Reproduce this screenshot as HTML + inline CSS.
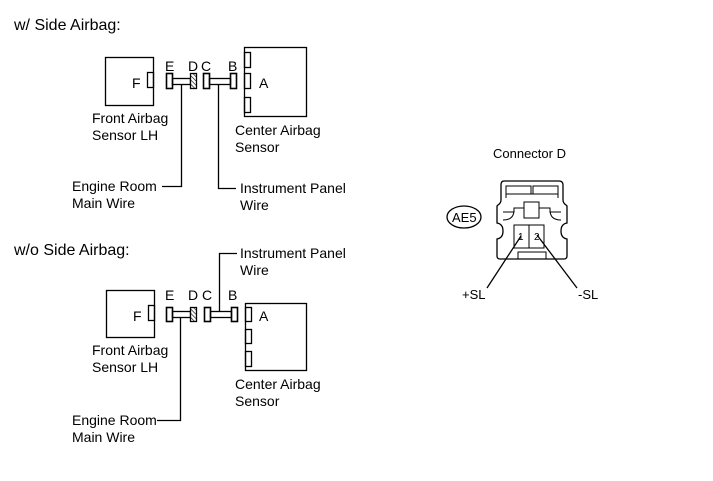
<!DOCTYPE html>
<html><head><style>
html,body{margin:0;padding:0;background:#fff;}
svg{display:block;}
text{font-family:"Liberation Sans",Arial,sans-serif;fill:#000;}
</style></head><body>
<svg width="713" height="481" viewBox="0 0 713 481" xmlns="http://www.w3.org/2000/svg">
<defs>
<pattern id="h" width="3" height="3" patternUnits="userSpaceOnUse" patternTransform="rotate(-45)">
<rect width="3" height="3" fill="#fff"/><line x1="0" y1="0" x2="0" y2="3" stroke="#000" stroke-width="1.2"/>
</pattern>
</defs>
<g stroke="#000" fill="none" stroke-width="1.3">
<rect x="105.5" y="57.5" width="48" height="48"/>
<rect x="147.5" y="72.5" width="6" height="15"/>
<rect x="166.5" y="73.5" width="6" height="15" stroke-width="1.6"/>
<rect x="172.5" y="78.5" width="18" height="6"/>
<rect x="190.5" y="73.5" width="6" height="15" fill="url(#h)"/>
<rect x="203.5" y="73.5" width="6" height="15" stroke-width="1.6"/>
<rect x="209.5" y="78.5" width="21" height="6"/>
<rect x="230.5" y="73.5" width="6" height="15" stroke-width="1.6"/>
<rect x="244.5" y="47.5" width="62" height="69"/>
<rect x="244.5" y="52.5" width="6" height="15"/>
<rect x="244.5" y="73.5" width="6" height="15"/>
<rect x="244.5" y="97.5" width="6" height="15"/>
<polyline points="181.5,84.5 181.5,186.5 162,186.5"/>
<polyline points="218.5,84.5 218.5,188.5 236,188.5"/>
<rect x="106.5" y="290.5" width="48" height="47"/>
<rect x="148.5" y="305.5" width="6" height="15"/>
<rect x="166.5" y="307.5" width="6" height="14" stroke-width="1.6"/>
<rect x="172.5" y="311.5" width="18" height="6"/>
<rect x="190.5" y="307.5" width="6" height="14" fill="url(#h)"/>
<rect x="204.5" y="307.5" width="6" height="14" stroke-width="1.6"/>
<rect x="210.5" y="311.5" width="21" height="6"/>
<rect x="231.5" y="307.5" width="6" height="14" stroke-width="1.6"/>
<rect x="245.5" y="303.5" width="61" height="67"/>
<rect x="245.5" y="307.5" width="6" height="14"/>
<rect x="245.5" y="329.5" width="6" height="14"/>
<rect x="245.5" y="351.5" width="6" height="15"/>
<polyline points="180.5,317.5 180.5,420.5 157,420.5"/>
<polyline points="219.5,311.5 219.5,253.5 237,253.5"/>
<path d="M504,181 L559,181 Q563,181 563,185 L563,200 Q563,203 566,205 L567,206 L567,223 Q561,224 561,231 Q561,238 567,239 L567,256 Q567,259 564,259 L500,259 Q497,259 497,256 L497,239 Q503,238 503,231 Q503,224 497,223 L497,206 L498,205 Q501,203 501,200 L501,185 Q501,181 504,181 Z"/>
<path d="M506,198 L506,186 L531,186 L531,194 M533,194 L533,186 L558,186 L558,198" stroke-width="1"/>
<line x1="506" y1="194" x2="558" y2="194" stroke-width="1"/>
<rect x="524" y="202" width="15" height="16" stroke-width="1"/>
<path d="M503,212 L514,212 L514,208 L524,208 M539,208 L550,208 L550,212 L561,212" stroke-width="1"/>
<path d="M503,220 Q514,220 514,210" stroke-width="1"/>
<path d="M561,220 Q550,220 550,210" stroke-width="1"/>
<rect x="514" y="225" width="15" height="23" stroke-width="1"/>
<rect x="529" y="225" width="15" height="23" stroke-width="1"/>
<path d="M518,259 L518,252 L546,252 L546,259" stroke-width="1"/>
<line x1="521" y1="236" x2="487" y2="288"/>
<line x1="537" y1="235" x2="577" y2="288"/>
<ellipse cx="464" cy="217" rx="17" ry="11"/>
</g>
<g font-size="14">
<text x="14" y="30" font-size="16">w/ Side Airbag:</text>
<text x="132" y="88">F</text>
<text x="165" y="71">E</text>
<text x="188" y="71">D</text>
<text x="201" y="71">C</text>
<text x="228" y="71">B</text>
<text x="259" y="88">A</text>
<text x="92" y="123">Front Airbag</text>
<text x="92" y="140">Sensor LH</text>
<text x="235" y="135">Center Airbag</text>
<text x="235" y="152">Sensor</text>
<text x="72" y="191">Engine Room</text>
<text x="72" y="208">Main Wire</text>
<text x="240" y="193">Instrument Panel</text>
<text x="240" y="210">Wire</text>

<text x="14" y="255" font-size="16">w/o Side Airbag:</text>
<text x="133" y="321">F</text>
<text x="165" y="300">E</text>
<text x="188" y="300">D</text>
<text x="202" y="300">C</text>
<text x="228" y="300">B</text>
<text x="259" y="321">A</text>
<text x="92" y="355">Front Airbag</text>
<text x="92" y="372">Sensor LH</text>
<text x="235" y="389">Center Airbag</text>
<text x="235" y="406">Sensor</text>
<text x="72" y="425">Engine Room</text>
<text x="72" y="442">Main Wire</text>
<text x="240" y="258">Instrument Panel</text>
<text x="240" y="275">Wire</text>

<text x="493" y="158" font-size="13">Connector D</text>
<text x="452" y="222" font-size="13">AE5</text>
<text x="518" y="240" font-size="10">1</text>
<text x="534" y="240" font-size="10">2</text>
<text x="462" y="299" font-size="13">+SL</text>
<text x="578" y="299" font-size="13">-SL</text>
</g>
</svg>
</body></html>
